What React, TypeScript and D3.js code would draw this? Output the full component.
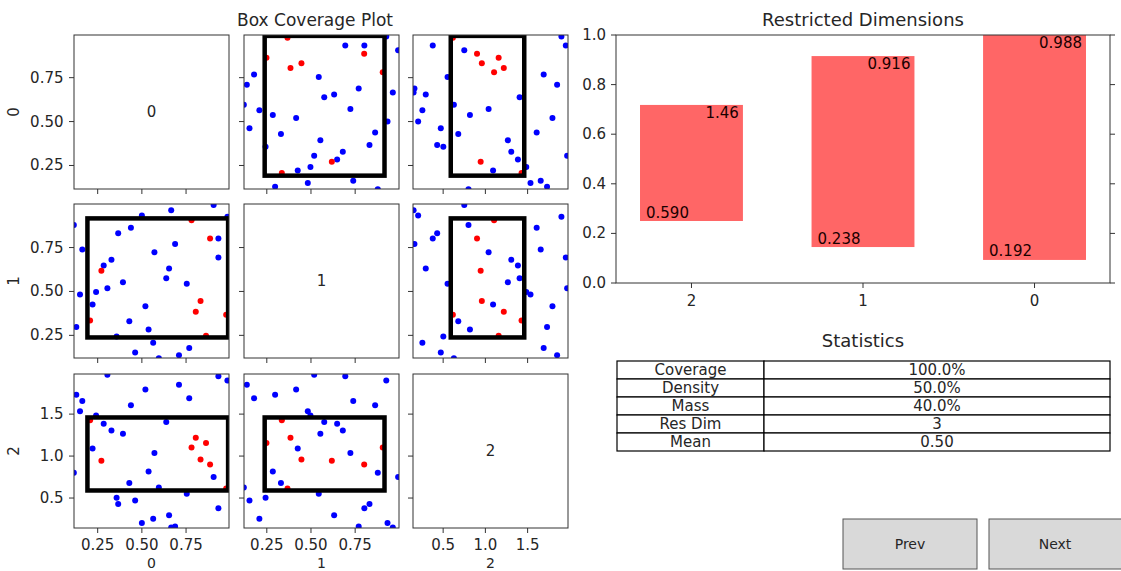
import React from "react";
import * as d3 from "d3";

// ---------- DATA ----------
const dimNames = ["0", "1", "2"];

// sample points (three dimensions); cls 1 = inside box (red), 0 = outside (blue)
const dim0 = [0.984, 0.933, 0.933, 0.906, 0.768, 0.754, 0.71, 0.688, 0.666, 0.654, 0.638, 0.596, 0.571, 0.564, 0.538, 0.52, 0.5, 0.462, 0.438, 0.429, 0.393, 0.366, 0.357, 0.328, 0.305, 0.284, 0.241, 0.221, 0.163, 0.15, 0.129, 0.115,
  0.977, 0.863, 0.805, 0.832, 0.886, 0.781, 0.271, 0.207];
const dim1 = [0.926, 0.694, 0.802, 0.993, 0.178, 0.544, 0.137, 0.77, 0.963, 0.631, 0.575, 0.12, 0.723, 0.208, 0.284, 0.416, 0.933, 0.152, 0.863, 0.33, 0.553, 0.831, 0.243, 0.68, 0.518, 0.648, 0.497, 0.425, 0.739, 0.482, 0.297, 0.878,
  0.367, 0.248, 0.384, 0.446, 0.801, 0.906, 0.618, 0.335];
const dim2 = [1.9, 1.952, 0.377, 0.75, 1.69, 0.552, 1.849, 0.16, 0.15, 0.294, 1.405, 0.627, 1.038, 0.254, 0.817, 1.794, 0.204, 0.472, 1.607, 0.679, 1.266, 0.429, 0.502, 1.306, 1.968, 1.385, 1.484, 1.091, 1.655, 1.534, 1.73, 0.8,
  0.615, 1.157, 1.218, 0.958, 0.901, 1.103, 0.944, 1.428];
const cls = [0, 0, 0, 0, 0, 0, 0, 0, 0, 0, 0, 0, 0, 0, 0, 0, 0, 0, 0, 0, 0, 0, 0, 0, 0, 0, 0, 0, 0, 0, 0, 0,
  1, 1, 1, 1, 1, 1, 1, 1];

const boxLow = [0.192, 0.238, 0.59];
const boxHigh = [0.988, 0.916, 1.46];

const axisLimits = [[0.116, 0.993], [0.121, 0.998], [0.143, 1.978]];
const scatterTicks = [[0.25, 0.5, 0.75], [0.25, 0.5, 0.75], [0.5, 1.0, 1.5]];
const scatterTickLabels = [["0.25", "0.50", "0.75"], ["0.25", "0.50", "0.75"], ["0.5", "1.0", "1.5"]];

// restricted dimensions bar chart
const barCategories = ["2", "1", "0"];
const barLow = [0.25, 0.145, 0.093];
const barHigh = [0.718, 0.915, 1.0];
const barLowLabels = ["0.590", "0.238", "0.192"];
const barHighLabels = ["1.46", "0.916", "0.988"];
const barYTicks = [0, 0.2, 0.4, 0.6, 0.8, 1.0];
const barYTickLabels = ["0.0", "0.2", "0.4", "0.6", "0.8", "1.0"];

// statistics table
const statNames = ["Coverage", "Density", "Mass", "Res Dim", "Mean"];
const statValues = ["100.0%", "50.0%", "40.0%", "3", "0.50"];

const buttonLabels = ["Prev", "Next"];

// ---------- LAYOUT ----------
const FONT = "DejaVu Sans, sans-serif";
const colX = [74, 244, 413];
const rowY = [35, 204, 374];
const PW = 155;
const PH = 154;
const TXT = "#262626";

export default function App() {
  const xs = axisLimits.map((lim, j) => d3.scaleLinear().domain(lim).range([colX[j], colX[j] + PW]));
  const ys = axisLimits.map((lim, i) => d3.scaleLinear().domain(lim).range([rowY[i] + PH, rowY[i]]));
  const dims = [dim0, dim1, dim2];
  const order = d3.range(dim0.length);

  const panels: React.ReactNode[] = [];
  for (let i = 0; i < 3; i++) {
    for (let j = 0; j < 3; j++) {
      const x0 = colX[j], y0 = rowY[i];
      const id = `clip-${i}-${j}`;
      panels.push(
        <g key={id}>
          <defs>
            <clipPath id={id}>
              <rect x={x0} y={y0} width={PW} height={PH} />
            </clipPath>
          </defs>
          {i === j ? (
            <text x={x0 + PW / 2} y={y0 + PH / 2} textAnchor="middle" dominantBaseline="central" fontSize={15} fill={TXT}>
              {dimNames[i]}
            </text>
          ) : (
            <g clipPath={`url(#${id})`}>
              {order.map((k) => (
                <circle key={k} cx={xs[j](dims[j][k])} cy={ys[i](dims[i][k])} r={3} fill={cls[k] ? "#ff0000" : "#0000ff"} />
              ))}
              <rect
                x={xs[j](boxLow[j])}
                y={ys[i](boxHigh[i])}
                width={xs[j](boxHigh[j]) - xs[j](boxLow[j])}
                height={ys[i](boxLow[i]) - ys[i](boxHigh[i])}
                fill="none"
                stroke="#000"
                strokeWidth={4.5}
              />
            </g>
          )}
          <rect x={x0} y={y0} width={PW} height={PH} fill="none" stroke="#333" strokeWidth={1} />
          {/* x ticks */}
          {scatterTicks[j].map((t, k) => (
            <g key={"xt" + k}>
              <line x1={xs[j](t)} x2={xs[j](t)} y1={y0 + PH} y2={y0 + PH + 5} stroke="#333" />
              {i === 2 && (
                <text x={xs[j](t)} y={y0 + PH + 22} textAnchor="middle" fontSize={15} fill={TXT}>
                  {scatterTickLabels[j][k]}
                </text>
              )}
            </g>
          ))}
          {/* y ticks */}
          {scatterTicks[i].map((t, k) => (
            <g key={"yt" + k}>
              <line x1={x0 - 5} x2={x0} y1={ys[i](t)} y2={ys[i](t)} stroke="#333" />
              {j === 0 && (
                <text x={x0 - 10.5} y={ys[i](t)} textAnchor="end" dominantBaseline="central" fontSize={15} fill={TXT}>
                  {scatterTickLabels[i][k]}
                </text>
              )}
            </g>
          ))}
          {j === 0 && (
            <text transform={`translate(${14},${y0 + PH / 2}) rotate(-90)`} textAnchor="middle" dominantBaseline="central" fontSize={15} fill={TXT}>
              {dimNames[i]}
            </text>
          )}
          {i === 2 && (
            <text x={x0 + PW / 2} y={568} textAnchor="middle" fontSize={14} fill={TXT}>
              {dimNames[j]}
            </text>
          )}
        </g>
      );
    }
  }

  // bar chart
  const bx = d3.scaleLinear().domain([-0.44, 2.44]).range([616, 1110]);
  const by = d3.scaleLinear().domain([0, 1]).range([283, 35]);
  const bw = 0.6;

  // table
  const tLeft = 617, tRight = 1110, tDiv = 764, tTop = 361, rowH = 18;

  return (
    <svg width={1121} height={571} style={{ position: "absolute", left: 0, top: 0, background: "#fff" }} fontFamily={FONT}>
      <rect x={0} y={0} width={1121} height={571} fill="#fff" />
      <text x={315} y={26} textAnchor="middle" fontSize={17} fill={TXT}>Box Coverage Plot</text>
      {panels}

      {/* Restricted Dimensions */}
      <text x={863} y={26} textAnchor="middle" fontSize={18} fill={TXT}>Restricted Dimensions</text>
      <defs>
        <clipPath id="barclip">
          <rect x={616} y={35} width={494} height={248} />
        </clipPath>
      </defs>
      <g clipPath="url(#barclip)">
        {barCategories.map((c, k) => (
          <rect key={c} x={bx(k - bw / 2)} y={by(barHigh[k])} width={bx(bw) - bx(0)} height={by(barLow[k]) - by(barHigh[k])} fill="#ff6666" />
        ))}
      </g>
      {barCategories.map((c, k) => (
        <g key={"lbl" + c}>
          <text x={bx(k - bw / 2) + 6} y={by(barLow[k]) - 3.5} fontSize={15} fill="#1a0000">{barLowLabels[k]}</text>
          <text x={bx(k + bw / 2) - 4} y={by(barHigh[k]) + 13} textAnchor="end" fontSize={15} fill="#1a0000">{barHighLabels[k]}</text>
        </g>
      ))}
      <rect x={616} y={35} width={494} height={248} fill="none" stroke="#333" strokeWidth={1} />
      {barYTicks.map((t, k) => (
        <g key={"byt" + k}>
          <line x1={611} x2={616} y1={by(t)} y2={by(t)} stroke="#333" />
          <line x1={1110} x2={1115} y1={by(t)} y2={by(t)} stroke="#333" />
          <text x={606} y={by(t)} textAnchor="end" dominantBaseline="central" fontSize={15} fill={TXT}>{barYTickLabels[k]}</text>
        </g>
      ))}
      {barCategories.map((c, k) => (
        <g key={"bxt" + c}>
          <line x1={bx(k)} x2={bx(k)} y1={283} y2={288} stroke="#333" />
          <text x={bx(k)} y={306} textAnchor="middle" fontSize={15} fill={TXT}>{c}</text>
        </g>
      ))}

      {/* Statistics */}
      <text x={863} y={347} textAnchor="middle" fontSize={18} fill={TXT}>Statistics</text>
      {statNames.map((n, k) => (
        <g key={n}>
          <rect x={tLeft} y={tTop + k * rowH} width={tDiv - tLeft} height={rowH} fill="#fff" stroke="#000" strokeWidth={1.2} />
          <rect x={tDiv} y={tTop + k * rowH} width={tRight - tDiv} height={rowH} fill="#fff" stroke="#000" strokeWidth={1.2} />
          <text x={(tLeft + tDiv) / 2} y={tTop + k * rowH + rowH / 2} textAnchor="middle" dominantBaseline="central" fontSize={15} fill={TXT}>{n}</text>
          <text x={(tDiv + tRight) / 2} y={tTop + k * rowH + rowH / 2} textAnchor="middle" dominantBaseline="central" fontSize={15} fill={TXT}>{statValues[k]}</text>
        </g>
      ))}

      {/* Buttons */}
      {buttonLabels.map((b, k) => {
        const bx0 = k === 0 ? 843 : 989;
        const bwid = k === 0 ? 134 : 140;
        return (
          <g key={b}>
            <rect x={bx0} y={519} width={bwid} height={50} fill="#d9d9d9" stroke="#555" strokeWidth={1} />
            <text x={k === 0 ? 910 : 1055} y={544} textAnchor="middle" dominantBaseline="central" fontSize={14} fill={TXT}>{b}</text>
          </g>
        );
      })}
    </svg>
  );
}
